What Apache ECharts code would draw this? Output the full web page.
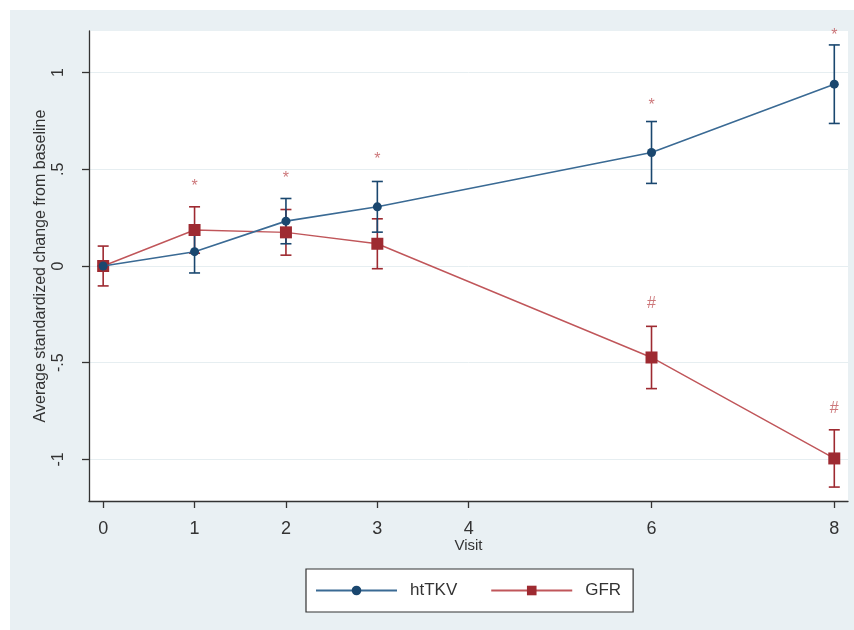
<!DOCTYPE html>
<html>
<head>
<meta charset="utf-8">
<script src="https://cdn.jsdelivr.net/npm/echarts@6/dist/echarts.min.js"></script>
<style>
html,body{margin:0;padding:0;background:#fff;}
#chart{width:854px;height:630px;}
</style>
</head>
<body>
<div id="chart"></div>
<script>
// ---- data ----
const visits = [0, 1, 2, 3, 6, 8];
const htTKV = [0, 0.074, 0.232, 0.306, 0.587, 0.94];
const htTKVErr = [0, 0.11, 0.117, 0.131, 0.16, 0.203];
const gfr = [0, 0.186, 0.174, 0.115, -0.473, -0.995];
const gfrErr = [0.103, 0.12, 0.118, 0.129, 0.161, 0.148];
const starVisits = [1, 2, 3, 6, 8];
const starY = [0.413, 0.454, 0.552, 0.831, 1.19];
const hashVisits = [6, 8];
const hashY = [-0.196, -0.738];
const xTicks = [0, 1, 2, 3, 4, 6, 8];
const yTicks = [-1, -0.5, 0, 0.5, 1];
const yTickLabels = {'-1': '-1', '-0.5': '-.5', '0': '0', '0.5': '.5', '1': '1'};

const BLUE = '#1a476f', BLUE_LINE = '#3a6a94';
const RED = '#9e2a31', RED_LINE = '#c0565a';

const lineData = (ys) => visits.map((v, i) => [v, ys[i]]);
const errData = (ys, es) => visits.map((v, i) => [v, ys[i] - es[i], ys[i] + es[i]]);

function errRender(color) {
  return function (params, api) {
    const x = api.value(0);
    const lo = api.coord([x, api.value(1)]);
    const hi = api.coord([x, api.value(2)]);
    const w = 5.5;
    const st = {stroke: color, lineWidth: 1.6};
    return {
      type: 'group',
      children: [
        {type: 'line', shape: {x1: lo[0], y1: lo[1], x2: hi[0], y2: hi[1]}, style: st},
        {type: 'line', shape: {x1: lo[0] - w, y1: lo[1], x2: lo[0] + w, y2: lo[1]}, style: st},
        {type: 'line', shape: {x1: hi[0] - w, y1: hi[1], x2: hi[0] + w, y2: hi[1]}, style: st}
      ]
    };
  };
}

const chart = echarts.init(document.getElementById('chart'));
chart.setOption({
  animation: false,
  backgroundColor: '#ffffff',
  textStyle: {fontFamily: 'Liberation Sans, Arial, sans-serif'},
  graphic: [{
    type: 'rect', left: 10, top: 10, z: -10,
    shape: {width: 844, height: 620},
    style: {fill: '#e9f0f3'}
  }],
  grid: {
    left: 89, top: 31, right: 6, bottom: 129,
    show: true, backgroundColor: '#ffffff', borderWidth: 0
  },
  xAxis: {
    type: 'value', min: -0.155, max: 8.15,
    name: 'Visit', nameLocation: 'middle', nameGap: 37, nameMoveOverlap: false,
    nameTextStyle: {fontSize: 15, color: '#333'},
    axisLine: {show: true, onZero: false, lineStyle: {color: '#333', width: 1.3}},
    axisTick: {show: true, length: 7, customValues: xTicks, lineStyle: {color: '#333', width: 1.3}},
    axisLabel: {customValues: xTicks, fontSize: 18, color: '#333', margin: 19},
    splitLine: {show: false}
  },
  yAxis: {
    type: 'value', min: -1.215, max: 1.215,
    name: 'Average standardized change from baseline', nameLocation: 'middle', nameGap: 40,
    nameMoveOverlap: false, nameRotate: 90,
    nameTextStyle: {fontSize: 16, color: '#333'},
    axisLine: {show: true, onZero: false, lineStyle: {color: '#333', width: 1.3}},
    axisTick: {show: true, length: 7, customValues: yTicks, lineStyle: {color: '#333', width: 1.3}},
    axisLabel: {
      customValues: yTicks, rotate: 90, fontSize: 16, color: '#333', margin: 22,
      formatter: (v) => yTickLabels[String(v)] !== undefined ? yTickLabels[String(v)] : String(v)
    },
    splitLine: {show: true, lineStyle: {color: '#e6eef1', width: 1}}
  },
  legend: {
    data: ['htTKV', 'GFR'],
    left: 306, top: 569,
    padding: [13, 12, 13, 9],
    itemWidth: 81, itemHeight: 12, itemGap: 33,
    backgroundColor: '#ffffff', borderColor: '#333', borderWidth: 1.2, borderRadius: 0,
    textStyle: {fontSize: 17, color: '#333', padding: [0, 0, 0, 8]}
  },
  series: [
    {
      name: 'htTKV', type: 'line', data: lineData(htTKV), z: 4,
      symbol: 'circle', symbolSize: 9,
      lineStyle: {color: BLUE_LINE, width: 1.6},
      itemStyle: {color: BLUE}
    },
    {
      name: 'GFR', type: 'line', data: lineData(gfr), z: 3,
      symbol: 'rect', symbolSize: 12,
      lineStyle: {color: RED_LINE, width: 1.4},
      itemStyle: {color: RED}
    },
    {
      name: 'htTKV CI', type: 'custom', z: 3,
      renderItem: errRender(BLUE), data: errData(htTKV, htTKVErr),
      encode: {x: 0, y: [1, 2]}
    },
    {
      name: 'GFR CI', type: 'custom', z: 2,
      renderItem: errRender(RED), data: errData(gfr, gfrErr),
      encode: {x: 0, y: [1, 2]}
    },
    {
      name: 'star', type: 'scatter', symbolSize: 0, silent: true,
      data: starVisits.map((v, i) => [v, starY[i]]),
      label: {show: true, position: 'inside', formatter: '*', color: RED_LINE, fontSize: 16}
    },
    {
      name: 'hash', type: 'scatter', symbolSize: 0, silent: true,
      data: hashVisits.map((v, i) => [v, hashY[i]]),
      label: {show: true, position: 'inside', formatter: '#', color: RED_LINE, fontSize: 16}
    }
  ]
});
</script>
</body>
</html>
